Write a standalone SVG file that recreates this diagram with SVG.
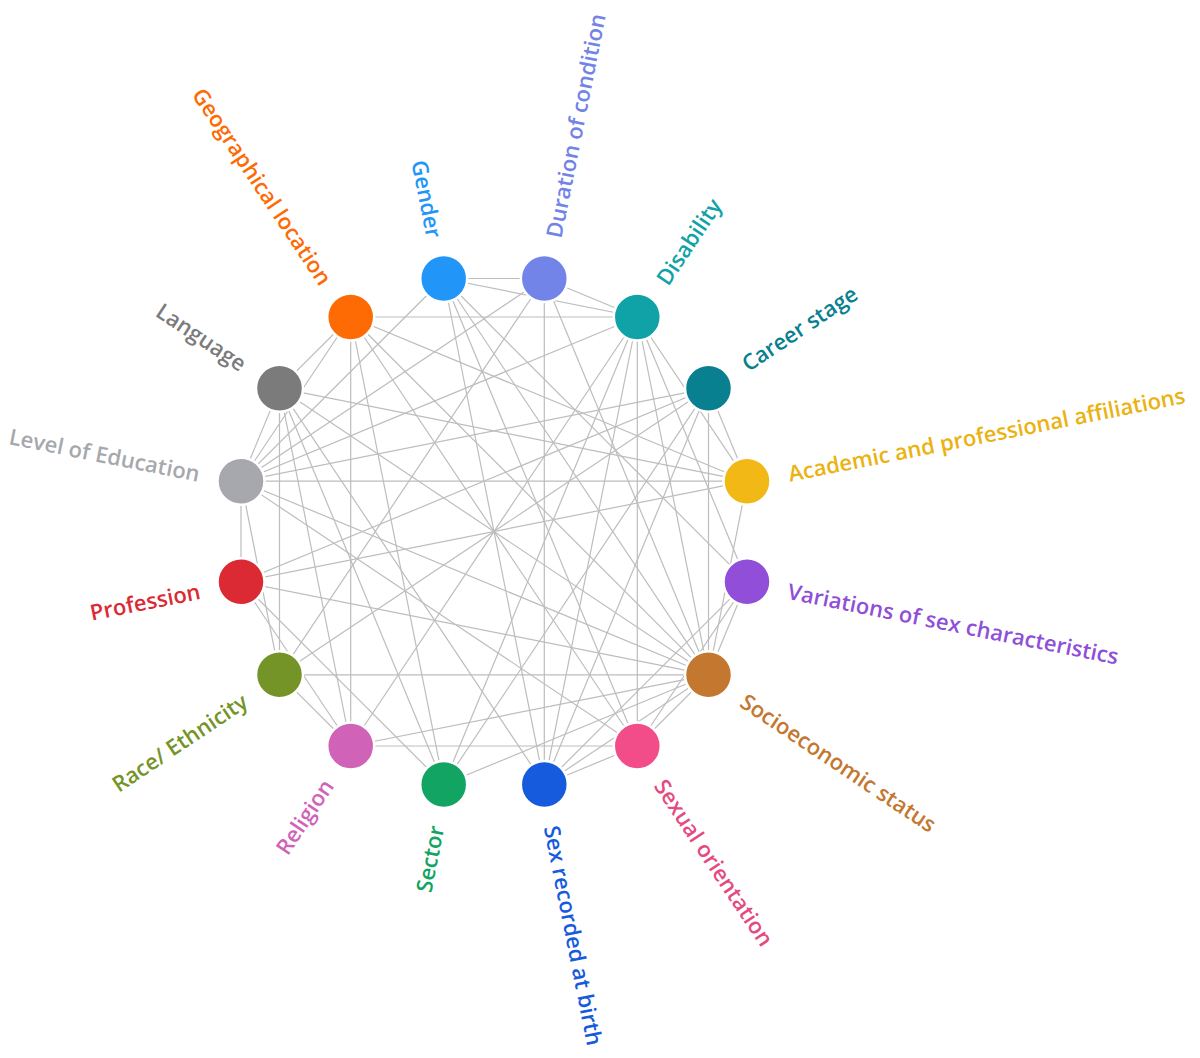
<svg xmlns="http://www.w3.org/2000/svg" width="1200" height="1058" viewBox="0 0 1200 1058">
<style>
.bg{fill:#ffffff}
.e{stroke:#bdbdbd;stroke-width:1.2;fill:none}
.n{stroke:#ffffff;stroke-width:2.5}
.t{font-family:"Open Sans","Liberation Sans",sans-serif;font-size:22px;font-weight:600;dominant-baseline:central}
.s{text-anchor:start}
.en{text-anchor:end}
</style>
<rect class="bg" x="0" y="0" width="1200" height="1058"/>
<g id="connectors">
<line class="e" x1="443.7" y1="278.5" x2="544.3" y2="278.5"/>
<line class="e" x1="443.7" y1="278.5" x2="637.3" y2="317.0"/>
<line class="e" x1="443.7" y1="278.5" x2="747.0" y2="581.8"/>
<line class="e" x1="443.7" y1="278.5" x2="708.5" y2="674.8"/>
<line class="e" x1="443.7" y1="278.5" x2="637.3" y2="746.0"/>
<line class="e" x1="443.7" y1="278.5" x2="544.3" y2="784.5"/>
<line class="e" x1="443.7" y1="278.5" x2="241.0" y2="481.2"/>
<line class="e" x1="544.3" y1="278.5" x2="637.3" y2="317.0"/>
<line class="e" x1="544.3" y1="278.5" x2="708.5" y2="674.8"/>
<line class="e" x1="544.3" y1="278.5" x2="544.3" y2="784.5"/>
<line class="e" x1="544.3" y1="278.5" x2="279.5" y2="674.8"/>
<line class="e" x1="544.3" y1="278.5" x2="241.0" y2="481.2"/>
<line class="e" x1="637.3" y1="317.0" x2="747.0" y2="481.2"/>
<line class="e" x1="637.3" y1="317.0" x2="747.0" y2="581.8"/>
<line class="e" x1="637.3" y1="317.0" x2="708.5" y2="674.8"/>
<line class="e" x1="637.3" y1="317.0" x2="637.3" y2="746.0"/>
<line class="e" x1="637.3" y1="317.0" x2="544.3" y2="784.5"/>
<line class="e" x1="637.3" y1="317.0" x2="443.7" y2="784.5"/>
<line class="e" x1="637.3" y1="317.0" x2="350.7" y2="746.0"/>
<line class="e" x1="637.3" y1="317.0" x2="241.0" y2="481.2"/>
<line class="e" x1="637.3" y1="317.0" x2="350.7" y2="317.0"/>
<line class="e" x1="708.5" y1="388.2" x2="747.0" y2="481.2"/>
<line class="e" x1="708.5" y1="388.2" x2="708.5" y2="674.8"/>
<line class="e" x1="708.5" y1="388.2" x2="544.3" y2="784.5"/>
<line class="e" x1="708.5" y1="388.2" x2="443.7" y2="784.5"/>
<line class="e" x1="708.5" y1="388.2" x2="279.5" y2="674.8"/>
<line class="e" x1="708.5" y1="388.2" x2="241.0" y2="581.8"/>
<line class="e" x1="708.5" y1="388.2" x2="241.0" y2="481.2"/>
<line class="e" x1="747.0" y1="481.2" x2="708.5" y2="674.8"/>
<line class="e" x1="747.0" y1="481.2" x2="241.0" y2="581.8"/>
<line class="e" x1="747.0" y1="481.2" x2="241.0" y2="481.2"/>
<line class="e" x1="747.0" y1="481.2" x2="279.5" y2="388.2"/>
<line class="e" x1="747.0" y1="481.2" x2="350.7" y2="317.0"/>
<line class="e" x1="747.0" y1="581.8" x2="708.5" y2="674.8"/>
<line class="e" x1="747.0" y1="581.8" x2="637.3" y2="746.0"/>
<line class="e" x1="747.0" y1="581.8" x2="544.3" y2="784.5"/>
<line class="e" x1="708.5" y1="674.8" x2="637.3" y2="746.0"/>
<line class="e" x1="708.5" y1="674.8" x2="544.3" y2="784.5"/>
<line class="e" x1="708.5" y1="674.8" x2="443.7" y2="784.5"/>
<line class="e" x1="708.5" y1="674.8" x2="350.7" y2="746.0"/>
<line class="e" x1="708.5" y1="674.8" x2="279.5" y2="674.8"/>
<line class="e" x1="708.5" y1="674.8" x2="241.0" y2="581.8"/>
<line class="e" x1="708.5" y1="674.8" x2="241.0" y2="481.2"/>
<line class="e" x1="708.5" y1="674.8" x2="279.5" y2="388.2"/>
<line class="e" x1="708.5" y1="674.8" x2="350.7" y2="317.0"/>
<line class="e" x1="637.3" y1="746.0" x2="544.3" y2="784.5"/>
<line class="e" x1="637.3" y1="746.0" x2="350.7" y2="746.0"/>
<line class="e" x1="637.3" y1="746.0" x2="241.0" y2="481.2"/>
<line class="e" x1="637.3" y1="746.0" x2="350.7" y2="317.0"/>
<line class="e" x1="544.3" y1="784.5" x2="279.5" y2="388.2"/>
<line class="e" x1="443.7" y1="784.5" x2="241.0" y2="581.8"/>
<line class="e" x1="443.7" y1="784.5" x2="279.5" y2="388.2"/>
<line class="e" x1="443.7" y1="784.5" x2="350.7" y2="317.0"/>
<line class="e" x1="350.7" y1="746.0" x2="279.5" y2="674.8"/>
<line class="e" x1="350.7" y1="746.0" x2="241.0" y2="581.8"/>
<line class="e" x1="350.7" y1="746.0" x2="279.5" y2="388.2"/>
<line class="e" x1="350.7" y1="746.0" x2="350.7" y2="317.0"/>
<line class="e" x1="279.5" y1="674.8" x2="241.0" y2="481.2"/>
<line class="e" x1="279.5" y1="674.8" x2="279.5" y2="388.2"/>
<line class="e" x1="241.0" y1="581.8" x2="241.0" y2="481.2"/>
<line class="e" x1="241.0" y1="481.2" x2="279.5" y2="388.2"/>
<line class="e" x1="241.0" y1="481.2" x2="350.7" y2="317.0"/>
<line class="e" x1="279.5" y1="388.2" x2="350.7" y2="317.0"/>
</g>
<g id="node-gender"><circle class="n" cx="443.7" cy="278.5" r="23.5" fill="#2196f8"/><text class="t en" x="435.5" y="237.3" fill="#2196f8" transform="rotate(78.75 435.5 237.3)">Gender</text></g>
<g id="node-duration"><circle class="n" cx="544.3" cy="278.5" r="23.5" fill="#7284e8"/><text class="t s" x="552.5" y="237.3" fill="#7284e8" transform="rotate(-78.75 552.5 237.3)">Duration of condition</text></g>
<g id="node-disability"><circle class="n" cx="637.3" cy="317.0" r="23.5" fill="#0fa3a8"/><text class="t s" x="660.7" y="282.1" fill="#0fa3a8" transform="rotate(-56.25 660.7 282.1)">Disability</text></g>
<g id="node-career"><circle class="n" cx="708.5" cy="388.2" r="23.5" fill="#08808f"/><text class="t s" x="743.4" y="364.8" fill="#08808f" transform="rotate(-33.75 743.4 364.8)">Career stage</text></g>
<g id="node-academic"><circle class="n" cx="747.0" cy="481.2" r="23.5" fill="#f2b815"/><text class="t s" x="788.2" y="473.0" fill="#eab311" transform="rotate(-11.25 788.2 473.0)">Academic and professional affiliations</text></g>
<g id="node-variations"><circle class="n" cx="747.0" cy="581.8" r="23.5" fill="#914fd9"/><text class="t s" x="788.2" y="590.0" fill="#8f4fd6" transform="rotate(11.25 788.2 590.0)">Variations of sex characteristics</text></g>
<g id="node-socioeconomic"><circle class="n" cx="708.5" cy="674.8" r="23.5" fill="#c4772f"/><text class="t s" x="743.4" y="698.2" fill="#c4772f" transform="rotate(33.75 743.4 698.2)">Socioeconomic status</text></g>
<g id="node-sexual-orientation"><circle class="n" cx="637.3" cy="746.0" r="23.5" fill="#f24d88"/><text class="t s" x="660.7" y="781.0" fill="#e44a80" transform="rotate(56.25 660.7 781.0)">Sexual orientation</text></g>
<g id="node-sex-birth"><circle class="n" cx="544.3" cy="784.5" r="23.5" fill="#165ade"/><text class="t s" x="552.5" y="825.7" fill="#165ade" transform="rotate(78.75 552.5 825.7)">Sex recorded at birth</text></g>
<g id="node-sector"><circle class="n" cx="443.7" cy="784.5" r="23.5" fill="#11a462"/><text class="t en" x="435.5" y="825.7" fill="#11a462" transform="rotate(-78.75 435.5 825.7)">Sector</text></g>
<g id="node-religion"><circle class="n" cx="350.7" cy="746.0" r="23.5" fill="#d063b8"/><text class="t en" x="327.3" y="781.0" fill="#d063b8" transform="rotate(-56.25 327.3 781.0)">Religion</text></g>
<g id="node-race"><circle class="n" cx="279.5" cy="674.8" r="23.5" fill="#749428"/><text class="t en" x="244.6" y="698.2" fill="#749428" transform="rotate(-33.75 244.6 698.2)">Race/ Ethnicity</text></g>
<g id="node-profession"><circle class="n" cx="241.0" cy="581.8" r="23.5" fill="#dc2a35"/><text class="t en" x="199.8" y="590.0" fill="#dc2a35" transform="rotate(-11.25 199.8 590.0)">Profession</text></g>
<g id="node-education"><circle class="n" cx="241.0" cy="481.2" r="23.5" fill="#a6a8ad"/><text class="t en" x="199.8" y="473.0" fill="#a6a8ad" transform="rotate(11.25 199.8 473.0)">Level of Education</text></g>
<g id="node-language"><circle class="n" cx="279.5" cy="388.2" r="23.5" fill="#7b7b7c"/><text class="t en" x="244.6" y="364.8" fill="#7b7b7c" transform="rotate(33.75 244.6 364.8)">Language</text></g>
<g id="node-geo"><circle class="n" cx="350.7" cy="317.0" r="23.5" fill="#fe6a04"/><text class="t en" x="327.3" y="282.1" fill="#fe6a04" transform="rotate(56.25 327.3 282.1)">Geographical location</text></g>
</svg>
